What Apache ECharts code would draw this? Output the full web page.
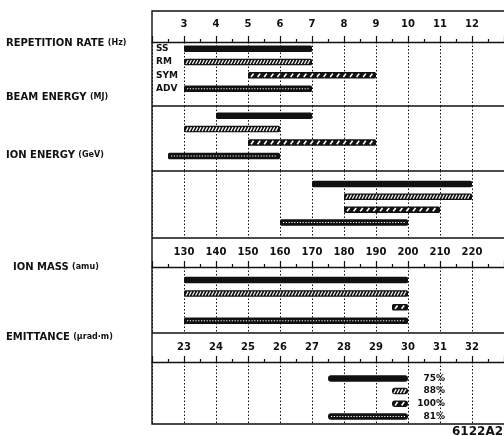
<!DOCTYPE html>
<html>
<head>
<meta charset="utf-8">
<script src="https://cdn.jsdelivr.net/npm/echarts@6/dist/echarts.min.js"></script>
<style>
  html, body { margin: 0; padding: 0; background: #fff; }
  #chart { width: 504px; height: 436px; }
</style>
</head>
<body>
<div id="chart"></div>
<script>
// rows of every panel
var rows = ['SS', 'RM', 'SYM', 'ADV'];

// [start, end] per row
var repRate = [[3, 7], [3, 7], [5, 9], [3, 7]];
var beamEnergy = [[4, 7], [3, 6], [5, 9], [2.5, 6]];
var ionEnergy = [[7, 12], [8, 12], [8, 11], [6, 10]];
var ionMass = [[130, 200], [130, 200], [195, 200], [130, 200]];
var emittance = [[27.5, 30], [29.5, 30], [29.5, 30], [27.5, 30]];
var emittancePct = ['75%', '88%', '100%', '81%'];

var sections = [
  { name: 'REPETITION RATE', unit: '(Hz)' },
  { name: 'BEAM ENERGY', unit: '(MJ)' },
  { name: 'ION ENERGY', unit: '(GeV)' },
  { name: 'ION MASS', unit: '(amu)' },
  { name: 'EMITTANCE', unit: '(µrad·m)' }
];

var INK = '#111';
var FONT = 'DejaVu Sans';

// panel boxes: top, height, y extent
var panels = [
  { top: 42, height: 64, ymin: -0.5, ymax: 4.3 },
  { top: 106, height: 65, ymin: -0.72, ymax: 4.12 },
  { top: 171, height: 67, ymin: -1.0, ymax: 4.2 },
  { top: 267, height: 66, ymin: -0.95, ymax: 3.9 },
  { top: 362, height: 62, ymin: -1.3, ymax: 3.6 }
];
var panelData = [repRate, beamEnergy, ionEnergy, ionMass, emittance];

function barItem(params, api) {
  var row = api.value(0);
  var a = api.coord([api.value(1), row]);
  var b = api.coord([api.value(2), row]);
  var x0 = a[0], x1 = b[0], yc = a[1], h = 6.5;
  var r = params.seriesIndex === 4 ? 3 : 1.5;
  var kids = [{
    type: 'rect',
    shape: { x: x0, y: yc - h / 2, width: x1 - x0, height: h, r: r },
    style: { fill: INK }
  }];
  var x;
  if (row === 1) {
    // dense white hatching
    for (x = x0 + 2; x < x1 - 3; x += 3.2) {
      kids.push({ type: 'line', shape: { x1: x, y1: yc + 2, x2: x + 2.2, y2: yc - 2 },
        style: { stroke: '#fff', lineWidth: 1.2 } });
    }
  } else if (row === 2) {
    // sparse white dashes
    for (x = x0 + 3; x < x1 - 4; x += 6.6) {
      kids.push({ type: 'line', shape: { x1: x, y1: yc + 1.7, x2: x + 2.6, y2: yc - 1.7 },
        style: { stroke: '#fff', lineWidth: 1.6 } });
    }
  } else if (row === 3) {
    // dotted centre line
    for (x = x0 + 3; x < x1 - 3; x += 2.8) {
      kids.push({ type: 'rect', shape: { x: x, y: yc - 0.5, width: 1.2, height: 1 },
        style: { fill: '#fff' } });
    }
  }
  if (params.seriesIndex === 0) {
    kids.push({ type: 'text', x: params.coordSys.x + 4, y: yc,
      style: { text: rows[row], fill: INK, font: 'bold 9px "' + FONT + '"',
        textAlign: 'left', textVerticalAlign: 'middle' } });
  }
  if (params.seriesIndex === 4) {
    kids.push({ type: 'text', x: x1 + 37, y: yc,
      style: { text: emittancePct[row], fill: INK, font: 'bold 9px "' + FONT + '"',
        textAlign: 'right', textVerticalAlign: 'middle' } });
  }
  return { type: 'group', children: kids };
}

function makeX(i, min, max, interval, labels, margin) {
  return {
    type: 'value', gridIndex: i, position: 'top',
    min: min, max: max, interval: interval,
    axisLine: { show: labels, onZero: false, lineStyle: { color: INK, width: 1.3 } },
    axisTick: { show: labels, length: 6, lineStyle: { color: INK, width: 1.2 } },
    minorTick: { show: labels, splitNumber: 2, length: 3, lineStyle: { color: INK, width: 1.2 } },
    axisLabel: { show: labels, showMinLabel: false, showMaxLabel: false, margin: margin,
      color: INK, fontFamily: FONT, fontWeight: 'bold', fontSize: 10 },
    splitLine: { show: true, lineStyle: { color: INK, type: [1.5, 2], width: 1 } }
  };
}

var grids = [], xAxes = [], yAxes = [], series = [];
panels.forEach(function (p, i) {
  grids.push({ left: 152, right: -3, top: p.top, height: p.height });
  yAxes.push({ type: 'value', gridIndex: i, inverse: true, min: p.ymin, max: p.ymax, show: false });
  series.push({
    type: 'custom', xAxisIndex: i, yAxisIndex: i,
    renderItem: barItem, silent: true, clip: false,
    encode: { x: [1, 2], y: 0 },
    data: panelData[i].map(function (d, k) { return [k, d[0], d[1]]; })
  });
});
xAxes.push(makeX(0, 2, 13, 1, true, 13));
xAxes.push(makeX(1, 2, 13, 1, false, 0));
xAxes.push(makeX(2, 2, 13, 1, false, 0));
xAxes.push(makeX(3, 120, 230, 10, true, 10));
xAxes.push(makeX(4, 22, 33, 1, true, 10));

// section titles
var titleY = [43, 97, 155, 267, 337];
var graphics = sections.map(function (s, i) {
  return {
    type: 'text', left: i === 3 ? 13 : 6, top: titleY[i] - 6,
    style: {
      text: '{a|' + s.name + '} {b|' + s.unit + '}',
      rich: {
        a: { fontFamily: FONT, fontWeight: 'bold', fontSize: 10, fill: INK },
        b: { fontFamily: FONT, fontWeight: 'bold', fontSize: 8, fill: INK }
      }
    }
  };
});
// frame and dividers
graphics.push({ type: 'rect', shape: { x: 152, y: 11, width: 400, height: 413 },
  style: { fill: 'none', stroke: INK, lineWidth: 1.4 } });
[106, 171, 238, 333].forEach(function (y) {
  graphics.push({ type: 'line', shape: { x1: 152, y1: y, x2: 504, y2: y },
    style: { stroke: INK, lineWidth: 1.3 } });
});
graphics.push({ type: 'text', left: 452, top: 426,
  style: { text: '6122A2', fontFamily: FONT, fontWeight: 'bold', fontSize: 12, fill: INK } });

var chart = echarts.init(document.getElementById('chart'));
chart.setOption({
  animation: false,
  grid: grids,
  xAxis: xAxes,
  yAxis: yAxes,
  series: series,
  graphic: graphics
});
</script>
</body>
</html>
